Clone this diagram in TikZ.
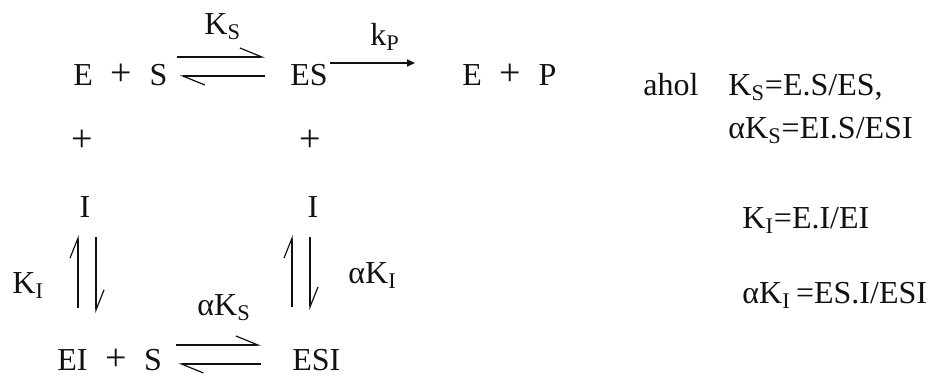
\documentclass[tikz,border=0pt]{standalone}
\usepackage{fontspec}
\setmainfont{Liberation Serif}
\usepackage{xcolor}
\usetikzlibrary{arrows.meta}
\definecolor{ink}{HTML}{111111}
\newcommand{\sbs}[1]{\textsubscript{#1}}
\newcommand{\bigplus}{{\fontsize{19}{19}\selectfont+}}
\newcommand{\pl}{\hspace{0.55em}\bigplus\hspace{0.55em}}
\tikzset{
  every node/.style={text=ink, inner sep=0pt, font=\fontsize{16}{19}\selectfont},
  sp/.style={anchor=base west},
  % half-headed arrows of the equilibria
  harp/.style={-{Straight Barb[harpoon,length=11pt,width=9pt]}, line width=0.6pt, draw=ink},
  vharp/.style={-{Straight Barb[harpoon,length=10pt,width=8pt]}, line width=0.6pt, draw=ink},
  fwd/.style={-{Triangle[length=4pt,width=3.5pt]}, line width=0.8pt, draw=ink},
}
\begin{document}
\begin{tikzpicture}[x=0.5pt,y=0.5pt]
  \useasboundingbox (0,0) rectangle (932,-376);

  % top row
  \node[sp] (es0) at (73,-85)  {E\pl S};
  \node[sp] (es)  at (290,-85) {ES};
  \node[sp] (ep)  at (462,-85) {E\pl P};
  \node[sp] (ks)  at (204,-34) {K\sbs{S}};
  \node[sp] (kp)  at (370,-45) {k\sbs{P}};
  \draw[harp] ([shift={(9,28)}]es0.base east) -- ([shift={(-25,28)}]es.base west);
  \draw[harp] ([shift={(-25,9)}]es.base west) -- ([shift={(12,9)}]es0.base east);
  \draw[fwd] ([shift={(2,22)}]es.base east) -- ([shift={(-47,22)}]ep.base west);

  % inhibitor
  \node (plA) at (82,-141)  {\bigplus};
  \node (plB) at (310,-141) {\bigplus};
  \node[anchor=base] (iA) at (85,-217)  {I};
  \node[anchor=base] (iB) at (313,-217) {I};

  % bottom row
  \node[sp] (eis) at (57,-370)  {EI\pl S};
  \node[sp] (esi) at (292,-370) {ESI};
  \node[sp] (ki)  at (12,-293)  {K\sbs{I}};
  \node[sp] (aki) at (348,-283) {αK\sbs{I}};
  \node[sp] (aks) at (197,-315) {αK\sbs{S}};
  \draw[harp] ([shift={(14,25)}]eis.base east) -- ([shift={(-31,25)}]esi.base west);
  \draw[harp] ([shift={(-31,6)}]esi.base west) -- ([shift={(16,6)}]eis.base east);

  \draw[vharp] ([shift={(21,62)}]eis.base west) -- ([shift={(-7,-18)}]iA.base);
  \draw[vharp] ([shift={(11,-20)}]iA.base) -- ([shift={(39,57)}]eis.base west);
  \draw[vharp] ([shift={(0,63)}]esi.base west) -- ([shift={(-21,-18)}]iB.base);
  \draw[vharp] ([shift={(-3,-20)}]iB.base) -- ([shift={(18,60)}]esi.base west);

  % definitions
  \node[sp] (ahol) at (643,-95) {ahol};
  \node[sp] (d1) at (728,-95)  {K\sbs{S}=E.S/ES,};
  \node[sp] (d2) at (728,-138) {αK\sbs{S}=EI.S/ESI};
  \node[sp] (d3) at (742,-228) {K\sbs{I}=E.I/EI};
  \node[sp] (d4) at (742,-303) {αK\sbs{I}\,=ES.I/ESI};
\end{tikzpicture}
\end{document}
